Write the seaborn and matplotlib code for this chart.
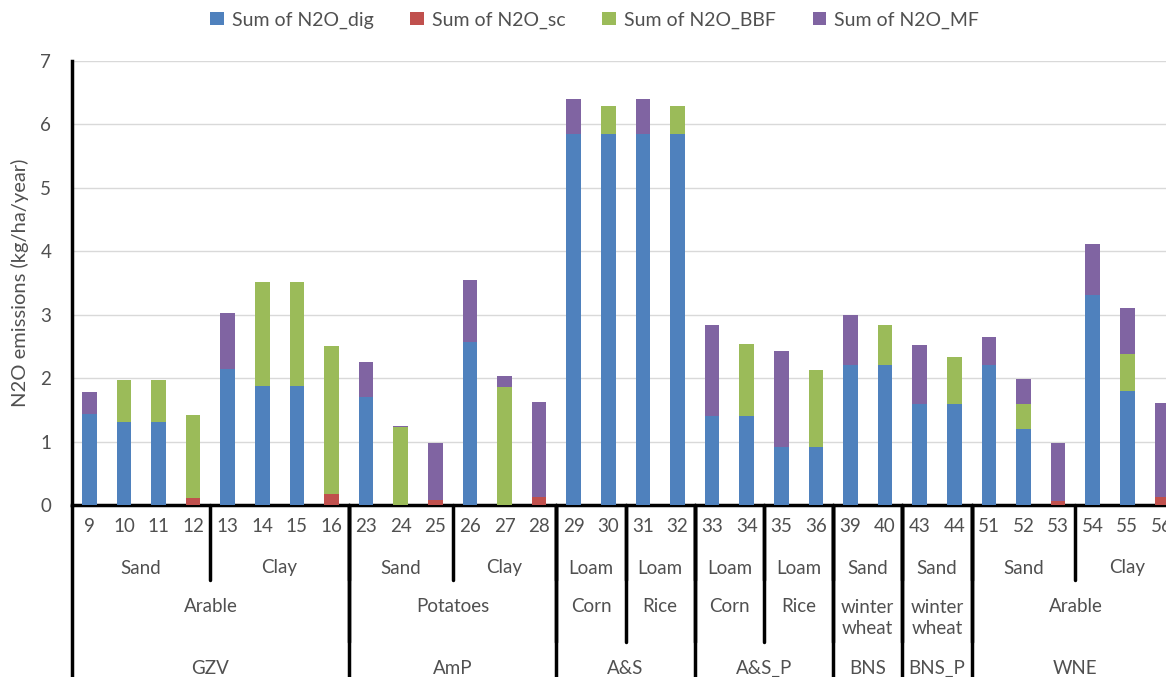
import numpy as np
import pandas as pd
import matplotlib
matplotlib.use("Agg")
import matplotlib.pyplot as plt
from matplotlib.patches import Patch
import seaborn as sns

# bar labels (farm / site numbers)
sites = [9, 10, 11, 12, 13, 14, 15, 16, 23, 24, 25, 26, 27, 28, 29, 30,
         31, 32, 33, 34, 35, 36, 39, 40, 43, 44, 51, 52, 53, 54, 55, 56]

# stacked series (kg/ha/year)
n2o_dig = [1.43, 1.31, 1.31, 0, 2.15, 1.87, 1.87, 0,
           1.70, 0, 0, 2.57, 0, 0,
           5.85, 5.85, 5.85, 5.85,
           1.41, 1.41, 0.91, 0.91,
           2.20, 2.20, 1.60, 1.60,
           2.20, 1.20, 0, 3.31, 1.80, 0]
n2o_sc = [0, 0, 0, 0.11, 0, 0, 0, 0.17,
          0, 0, 0.08, 0, 0, 0.13,
          0, 0, 0, 0,
          0, 0, 0, 0,
          0, 0, 0, 0,
          0, 0, 0.07, 0, 0, 0.13]
n2o_bbf = [0, 0.66, 0.66, 1.31, 0, 1.64, 1.64, 2.34,
           0, 1.23, 0, 0, 1.86, 0,
           0, 0.44, 0, 0.44,
           0, 1.13, 0, 1.22,
           0, 0.64, 0, 0.74,
           0, 0.39, 0, 0, 0.58, 0]
n2o_mf = [0.35, 0, 0, 0, 0.88, 0, 0, 0,
          0.55, 0.02, 0.90, 0.98, 0.17, 1.49,
          0.55, 0, 0.55, 0,
          1.42, 0, 1.52, 0,
          0.80, 0, 0.93, 0,
          0.45, 0.39, 0.90, 0.81, 0.72, 1.48]

# category hierarchy below the axis: (label, number of bars)
soil_groups = [("Sand", 4), ("Clay", 4), ("Sand", 3), ("Clay", 3),
               ("Loam", 2), ("Loam", 2), ("Loam", 2), ("Loam", 2),
               ("Sand", 2), ("Sand", 2), ("Sand", 3), ("Clay", 3)]
crop_groups = [("Arable", 8), ("Potatoes", 6), ("Corn", 2), ("Rice", 2),
               ("Corn", 2), ("Rice", 2), ("winter\nwheat", 2),
               ("winter\nwheat", 2), ("Arable", 6)]
program_groups = [("GZV", 8), ("AmP", 6), ("A&S", 4), ("A&S_P", 4),
                  ("BNS", 2), ("BNS_P", 2), ("WNE", 6)]

series_names = ["Sum of N2O_dig", "Sum of N2O_sc", "Sum of N2O_BBF", "Sum of N2O_MF"]
colors = ["#4F81BD", "#C0504D", "#9BBB59", "#8064A2"]
text_color = "#505050"

sns.set_style("white")
plt.rcParams["font.family"] = ["Lato", "DejaVu Sans"]

df = pd.DataFrame({"site": [str(s) for s in sites]})
stack = np.cumsum(np.array([n2o_dig, n2o_sc, n2o_bbf, n2o_mf]), axis=0)
for i in range(4):
    df[f"c{i}"] = stack[i]

W, H = 1166, 677
fig = plt.figure(figsize=(W / 100, H / 100), dpi=100)
x0, y0, y_top = 72, 505, 61
slot = 34.6
ax = fig.add_axes([x0 / W, (H - y0) / H, len(sites) * slot / W, (y0 - y_top) / H])

# overdraw cumulative sums from top series down
for i in range(3, -1, -1):
    sns.barplot(data=df, x="site", y=f"c{i}", order=df["site"], color=colors[i],
                saturation=1, width=0.42, linewidth=0, errorbar=None, ax=ax, zorder=3)

ax.set_xlim(-0.5, len(sites) - 0.5)
ax.set_ylim(0, 7)
ax.set_yticks(range(8))
ax.yaxis.grid(True, color="#D9D9D9", linewidth=1, zorder=0)
ax.set_axisbelow(True)
ax.tick_params(axis="y", length=0, labelsize=13.5, labelcolor=text_color, pad=15)
ax.tick_params(axis="x", length=0, labelsize=13.5, labelcolor=text_color, pad=9)
ax.set_xlabel("")
ax.set_ylabel("N2O emissions (kg/ha/year)", fontsize=14.5, color=text_color, labelpad=8)

for side in ["top", "right"]:
    ax.spines[side].set_visible(False)
for side in ["left", "bottom"]:
    ax.spines[side].set_color("black")
    ax.spines[side].set_linewidth(2.5)


def ax_y(px):
    # pixel row below the axis -> axes fraction
    return -(px - y0) / (y0 - y_top)


trans = ax.get_xaxis_transform()
ax.plot([-0.5, -0.5], [0, ax_y(H + 5)], transform=trans, color="black",
        lw=2.5, clip_on=False)


def draw_level(groups, text_px, line_px):
    start = 0
    for label, n in groups:
        mid = start + n / 2 - 0.5
        n_lines = label.count("\n") + 1
        ax.text(mid, ax_y(text_px + 12 * (n_lines - 1)), label, transform=trans,
                ha="center", va="center", fontsize=13.5, color=text_color,
                linespacing=1.25)
        start += n
        end_x = start - 0.5
        if start < len(sites):
            ax.plot([end_x, end_x], [0, ax_y(line_px)], transform=trans,
                    color="black", lw=2.5, clip_on=False)


draw_level(program_groups, 668, H + 5)
draw_level(crop_groups, 606, 642)
draw_level(soil_groups, 568, 580)

handles = [Patch(facecolor=c, edgecolor="none") for c in colors]
fig.legend(handles, series_names, loc="center", bbox_to_anchor=(0.51, 1 - 20 / H),
           ncol=4, frameon=False, fontsize=14, handlelength=0.7, handleheight=0.7,
           handletextpad=0.4, columnspacing=1.9, labelcolor=text_color)

fig.savefig("out.png", dpi=100)
